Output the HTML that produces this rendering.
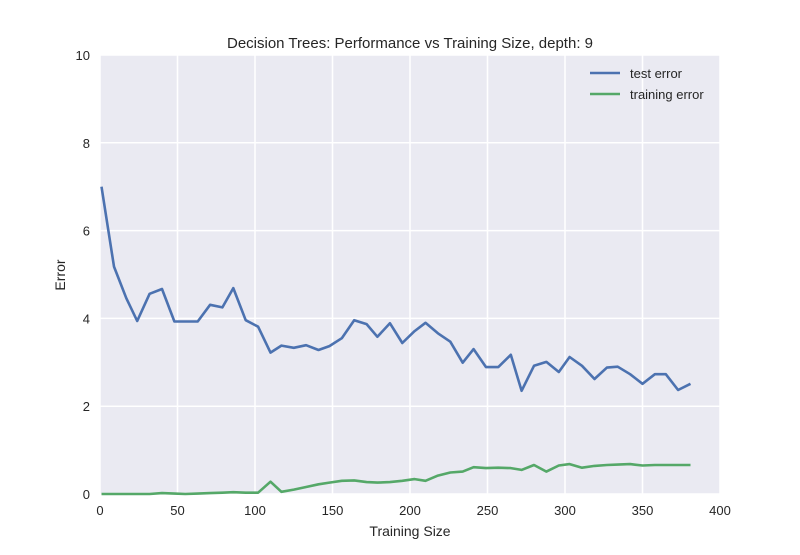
<!DOCTYPE html>
<html><head><meta charset="utf-8"><style>
body{margin:0;background:#fff;}
svg text{font-family:"Liberation Sans",sans-serif;fill:#262626;}
</style></head><body>
<svg id="chart" width="800" height="550">
<rect x="100" y="55" width="620" height="439" fill="#EAEAF2"/>
<g id="grid"></g><g id="ticks"></g><g id="lines"></g>
<text x="410" y="48" text-anchor="middle" font-size="15">Decision Trees: Performance vs Training Size, depth: 9</text>
<text x="410" y="536" text-anchor="middle" font-size="14">Training Size</text>
<text x="65" y="275" text-anchor="middle" font-size="14" transform="rotate(-90 65 275)">Error</text>
<g>
<g><line x1="590" y1="73" x2="620" y2="73" stroke="#4C72B0" stroke-width="2.5"/><text x="630" y="78" font-size="13">test error</text></g>
<g><line x1="590" y1="94" x2="620" y2="94" stroke="#55A868" stroke-width="2.5"/><text x="630" y="99" font-size="13">training error</text></g>
</g>
</svg>
<script>
const sizes=[1,9,17,24,32,40,48,55,63,71,79,86,94,102,110,117,125,133,141,148,156,164,172,179,187,195,203,210,218,226,234,241,249,257,265,272,280,288,296,303,311,319,327,334,342,350,358,365,373,381];
const testError=[7.0,5.18,4.46,3.94,4.56,4.67,3.93,3.93,3.93,4.31,4.25,4.69,3.96,3.81,3.22,3.38,3.33,3.39,3.28,3.37,3.55,3.96,3.87,3.58,3.89,3.44,3.71,3.90,3.66,3.47,2.99,3.30,2.89,2.89,3.17,2.35,2.92,3.01,2.78,3.12,2.92,2.62,2.88,2.90,2.73,2.51,2.73,2.73,2.37,2.51];
const trainError=[0,0,0,0,0,0.02,0.01,0,0.01,0.02,0.03,0.04,0.03,0.03,0.28,0.05,0.1,0.16,0.22,0.26,0.30,0.31,0.27,0.26,0.27,0.30,0.34,0.30,0.42,0.49,0.51,0.61,0.59,0.60,0.59,0.55,0.66,0.51,0.65,0.68,0.60,0.64,0.66,0.67,0.68,0.65,0.66,0.66,0.66,0.66];
const xTicks=[0,50,100,150,200,250,300,350,400];
const yTicks=[0,2,4,6,8,10];
const NS='http://www.w3.org/2000/svg';
const xs=v=>100+v/400*620, ys=v=>494-v/10*439;
const grid=document.getElementById('grid'),ticks=document.getElementById('ticks'),lines=document.getElementById('lines');
function mk(tag,attrs,parent){const e=document.createElementNS(NS,tag);for(const k in attrs)e.setAttribute(k,attrs[k]);parent.appendChild(e);return e;}
xTicks.forEach(t=>{
  const l=mk('line',{x1:xs(t),x2:xs(t),y1:55,y2:494,stroke:'#fff','stroke-width':1.5},grid);
  
  
  const tx=mk('text',{x:xs(t),y:515,'text-anchor':'middle','font-size':13},ticks);tx.textContent=t;
  
  
});
yTicks.forEach(t=>{
  const l=mk('line',{x1:100,x2:720,y1:ys(t),y2:ys(t),stroke:'#fff','stroke-width':1.5},grid);
  
  
  const tx=mk('text',{x:90,y:ys(t)+5,'text-anchor':'end','font-size':13},ticks);tx.textContent=t;
  
  
});
function series(vals,color,name){
  const d=vals.map((v,i)=>(i?'L':'M')+xs(sizes[i]).toFixed(1)+','+ys(v).toFixed(1)).join('');
  const p=mk('path',{d:d,fill:'none',stroke:color,'stroke-width':2.6,'stroke-linejoin':'round'},lines);
  
  
}
series(testError,'#4C72B0','test-error-line');
series(trainError,'#55A868','training-error-line');
</script>
</body></html>
